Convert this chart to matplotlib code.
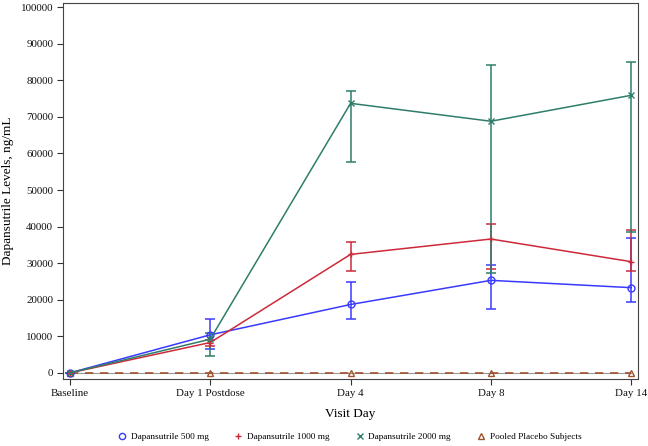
import matplotlib
matplotlib.use("Agg")
import matplotlib.pyplot as plt
from matplotlib.lines import Line2D
import numpy as np

plt.rcParams['font.family'] = ['Liberation Serif', 'DejaVu Serif']

visits = ['Baseline', 'Day 1 Postdose', 'Day 4', 'Day 8', 'Day 14']

mean_500 = [0, 10400, 18700, 25300, 23300]
low_500 = [0, 6400, 14600, 17600, 19500]
high_500 = [0, 14700, 24800, 29400, 37000]

mean_1000 = [0, 8300, 32400, 36600, 30400]
low_1000 = [0, 7400, 27800, 28500, 27800]
high_1000 = [0, 9100, 35800, 40800, 39200]

mean_2000 = [0, 9200, 73700, 68800, 75900]
low_2000 = [0, 4700, 57700, 27200, 38600]
high_2000 = [0, 11000, 77200, 84300, 84900]

mean_placebo = [0, 0, 0, 0, 0]

labels = ['Dapansutrile 500 mg', 'Dapansutrile 1000 mg',
          'Dapansutrile 2000 mg', 'Pooled Placebo Subjects']
colors = ['#3a3aff', '#cc2a3a', '#2e7d6b', '#a0522d']

x = np.arange(len(visits))

fig = plt.figure(figsize=(6.48, 4.46), dpi=100)
ax = fig.add_axes([0.097, 0.150, 0.888, 0.843])

# grey line under the placebo series
ax.plot(x, mean_placebo, color='#999999', linewidth=0.8, zorder=1)
ax.plot(x, mean_placebo, color=colors[3], linestyle=(0, (5, 4)), linewidth=1.2,
        marker='^', markerfacecolor='none', markeredgecolor=colors[3], markersize=5,
        zorder=2)

series = [
    (mean_500, low_500, high_500, colors[0], 'o'),
    (mean_1000, low_1000, high_1000, colors[1], '+'),
    (mean_2000, low_2000, high_2000, colors[2], 'x'),
]
for m, lo, hi, c, mk in series:
    m = np.array(m)
    err = [m - np.array(lo), np.array(hi) - m]
    ax.errorbar(x, m, yerr=err, color=c, linewidth=1.1, elinewidth=1.1,
                capsize=3.6, capthick=1.1, marker=mk, markersize=5,
                markerfacecolor='none', markeredgecolor=c, zorder=3)

ax.set_xlim(-0.05, 4.05)
ax.set_ylim(-1700, 101100)
ax.set_xticks(x)
ax.set_xticklabels(visits)
ax.set_yticks(np.arange(0, 100001, 10000))
ax.tick_params(labelsize=7.9, color='#333333', labelcolor='#111111', length=4, pad=3)
for s in ax.spines.values():
    s.set_color('#444444')

ax.set_xlabel('Visit Day', fontsize=9.5, labelpad=7)
ax.set_ylabel('Dapansutrile Levels, ng/mL', fontsize=9.5, labelpad=5)

proxies = [
    Line2D([], [], linestyle='none', marker='o', markerfacecolor='none', markeredgecolor=colors[0], markersize=4.5),
    Line2D([], [], linestyle='none', marker='+', color=colors[1], markersize=4.5),
    Line2D([], [], linestyle='none', marker='x', color=colors[2], markersize=4.5),
    Line2D([], [], linestyle='none', marker='^', markerfacecolor='none', markeredgecolor=colors[3], markersize=4.5),
]
fig.legend(proxies, labels, loc='center', ncol=4, frameon=False, fontsize=6.7,
           bbox_to_anchor=(0.539, 1 - 437 / 446), handletextpad=0.45,
           columnspacing=2.7, handlelength=1.0)

fig.savefig('out.png', dpi=100)
